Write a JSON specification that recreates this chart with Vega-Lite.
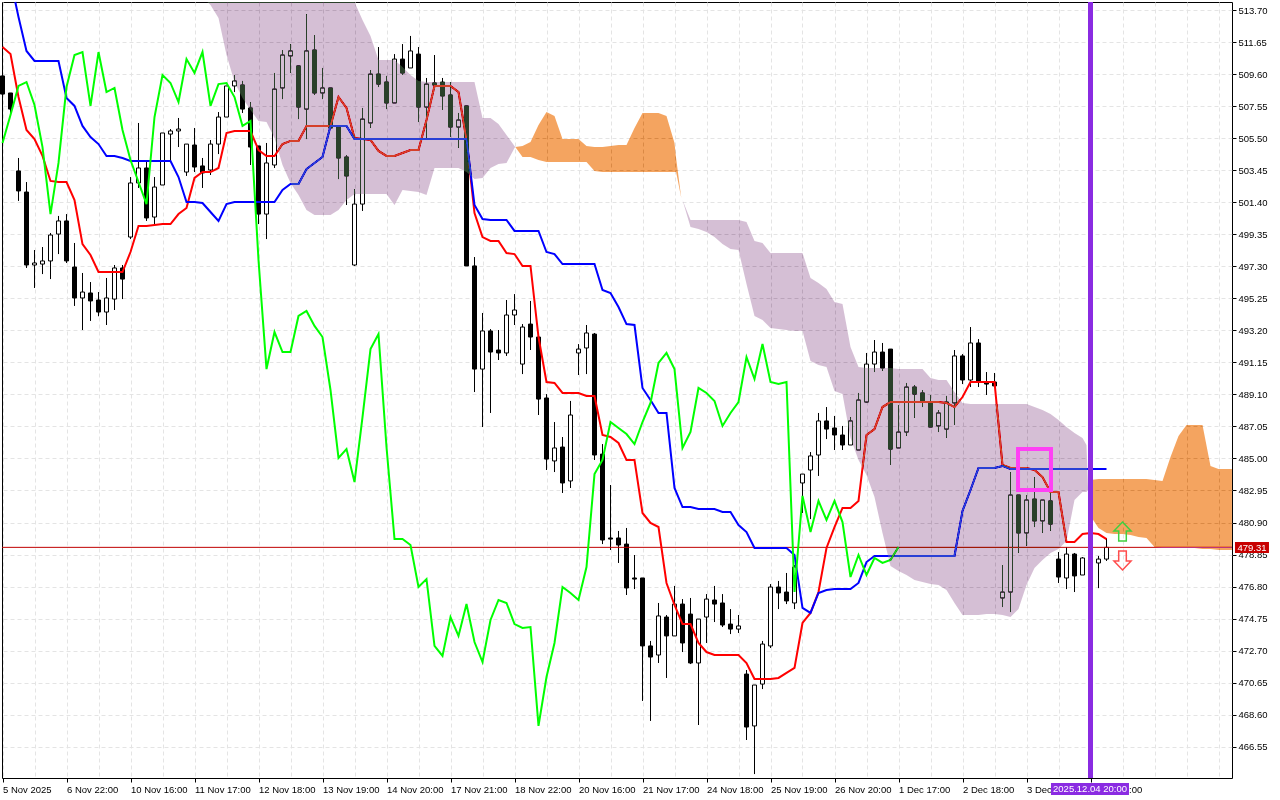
{
"$schema":"https://vega.github.io/schema/vega-lite/v6.json",
"width":1230,"height":776,
"autosize":"none",
"padding":{"left":2,"top":2,"right":48,"bottom":22},
"background":"white",
"view":{"fill":"white","stroke":"black","strokeWidth":1},
"config":{"font":"Liberation Sans"},
"datasets":{
"candles":[
{"i":0,"o":509.48,"h":509.73,"l":507.94,"c":508.32},{"i":1,"o":508.39,"h":508.39,"l":506.98,"c":507.36},{"i":2,"o":503.40,"h":504.23,"l":501.48,"c":502.12},{"i":3,"o":502.05,"h":502.69,"l":497.19,"c":497.38},{"i":4,"o":497.38,"h":498.34,"l":495.91,"c":497.51},{"i":5,"o":497.44,"h":498.53,"l":496.80,"c":497.64},{"i":6,"o":497.64,"h":499.43,"l":496.48,"c":499.30},{"i":7,"o":499.36,"h":500.52,"l":498.08,"c":500.20},{"i":8,"o":500.20,"h":500.64,"l":497.51,"c":497.64},{"i":9,"o":497.25,"h":498.79,"l":494.76,"c":495.27},
{"i":10,"o":495.27,"h":496.87,"l":493.22,"c":495.65},{"i":11,"o":495.59,"h":496.29,"l":493.80,"c":495.08},{"i":12,"o":495.14,"h":495.65,"l":494.10,"c":494.37},{"i":13,"o":494.37,"h":496.55,"l":493.54,"c":495.27},{"i":14,"o":495.20,"h":497.38,"l":494.50,"c":497.19},{"i":15,"o":497.19,"h":497.38,"l":495.20,"c":496.48},{"i":16,"o":499.17,"h":503.01,"l":499.04,"c":502.63},{"i":17,"o":502.63,"h":506.47,"l":502.31,"c":503.59},{"i":18,"o":503.59,"h":504.10,"l":500.20,"c":500.39},{"i":19,"o":500.45,"h":503.01,"l":500.00,"c":502.37},
{"i":20,"o":502.50,"h":505.83,"l":502.50,"c":505.83},{"i":21,"o":505.76,"h":506.08,"l":504.10,"c":505.96},{"i":22,"o":505.96,"h":506.79,"l":504.93,"c":506.08},{"i":23,"o":503.33,"h":505.12,"l":503.08,"c":505.12},{"i":24,"o":505.06,"h":506.15,"l":503.33,"c":503.65},{"i":25,"o":503.72,"h":504.23,"l":502.31,"c":503.27},{"i":26,"o":503.46,"h":505.38,"l":503.14,"c":505.12},{"i":27,"o":505.12,"h":507.17,"l":504.48,"c":506.85},{"i":28,"o":506.85,"h":508.84,"l":506.85,"c":508.84},{"i":29,"o":508.84,"h":509.54,"l":508.45,"c":509.16},
{"i":30,"o":508.90,"h":509.16,"l":507.11,"c":507.36},{"i":31,"o":507.43,"h":507.81,"l":503.78,"c":504.93},{"i":32,"o":505.00,"h":505.00,"l":500.00,"c":500.64},{"i":33,"o":500.64,"h":505.19,"l":499.04,"c":503.91},{"i":34,"o":503.78,"h":509.67,"l":503.59,"c":508.64},{"i":35,"o":508.71,"h":511.14,"l":508.00,"c":510.82},{"i":36,"o":510.76,"h":511.52,"l":509.67,"c":511.08},{"i":37,"o":510.12,"h":510.12,"l":506.72,"c":507.49},{"i":38,"o":507.36,"h":513.44,"l":505.44,"c":511.08},{"i":39,"o":511.14,"h":512.10,"l":508.26,"c":508.39},
{"i":40,"o":508.39,"h":509.99,"l":508.00,"c":508.71},{"i":41,"o":508.71,"h":508.71,"l":506.15,"c":506.15},{"i":42,"o":506.21,"h":506.28,"l":502.88,"c":504.23},{"i":43,"o":504.29,"h":504.42,"l":501.22,"c":503.08},{"i":44,"o":497.38,"h":502.24,"l":497.32,"c":501.28},{"i":45,"o":501.28,"h":507.43,"l":500.84,"c":506.72},{"i":46,"o":506.47,"h":509.86,"l":506.15,"c":509.60},{"i":47,"o":509.60,"h":511.33,"l":508.77,"c":508.96},{"i":48,"o":509.09,"h":509.48,"l":507.36,"c":507.75},{"i":49,"o":507.75,"h":510.88,"l":507.75,"c":510.56},
{"i":50,"o":510.56,"h":511.52,"l":509.54,"c":509.67},{"i":51,"o":509.99,"h":512.04,"l":509.99,"c":511.08},{"i":52,"o":510.88,"h":511.33,"l":506.53,"c":507.49},{"i":53,"o":507.49,"h":509.35,"l":505.51,"c":508.96},{"i":54,"o":509.03,"h":510.82,"l":508.58,"c":508.90},{"i":55,"o":509.09,"h":509.35,"l":507.30,"c":508.20},{"i":56,"o":508.26,"h":509.09,"l":505.57,"c":506.21},{"i":57,"o":506.21,"h":507.11,"l":504.87,"c":506.66},{"i":58,"o":507.56,"h":507.56,"l":497.32,"c":497.32},{"i":59,"o":497.32,"h":497.89,"l":489.25,"c":490.72},
{"i":60,"o":490.72,"h":494.31,"l":487.01,"c":493.16},{"i":61,"o":493.16,"h":493.28,"l":487.91,"c":491.81},{"i":62,"o":491.94,"h":493.22,"l":491.30,"c":491.75},{"i":63,"o":491.75,"h":495.14,"l":491.56,"c":494.18},{"i":64,"o":494.18,"h":495.52,"l":493.54,"c":494.50},{"i":65,"o":491.04,"h":493.60,"l":490.40,"c":493.41},{"i":66,"o":493.60,"h":495.08,"l":491.94,"c":492.77},{"i":67,"o":492.77,"h":492.77,"l":487.78,"c":488.80},{"i":68,"o":488.87,"h":489.12,"l":484.26,"c":484.96},{"i":69,"o":484.84,"h":487.33,"l":484.13,"c":485.67},
{"i":70,"o":485.73,"h":486.37,"l":482.79,"c":483.43},{"i":71,"o":483.56,"h":488.68,"l":483.11,"c":487.78},{"i":72,"o":491.75,"h":492.32,"l":490.34,"c":492.00},{"i":73,"o":492.07,"h":493.54,"l":490.40,"c":493.03},{"i":74,"o":492.96,"h":493.03,"l":484.90,"c":485.22},{"i":75,"o":485.28,"h":485.92,"l":479.52,"c":479.78},{"i":76,"o":479.91,"h":483.30,"l":479.14,"c":479.84},{"i":77,"o":479.91,"h":480.36,"l":478.31,"c":479.46},{"i":78,"o":479.52,"h":480.55,"l":476.26,"c":476.71},{"i":79,"o":477.35,"h":478.82,"l":476.64,"c":477.28},
{"i":80,"o":477.35,"h":477.35,"l":469.48,"c":473.00},{"i":81,"o":473.00,"h":473.32,"l":468.20,"c":472.29},{"i":82,"o":472.42,"h":475.75,"l":471.91,"c":474.92},{"i":83,"o":474.85,"h":474.98,"l":470.95,"c":473.64},{"i":84,"o":473.64,"h":476.84,"l":473.64,"c":475.68},{"i":85,"o":475.68,"h":476.00,"l":472.61,"c":473.19},{"i":86,"o":475.04,"h":476.07,"l":471.84,"c":471.91},{"i":87,"o":471.91,"h":474.72,"l":467.94,"c":474.72},{"i":88,"o":474.85,"h":476.32,"l":473.19,"c":476.00},{"i":89,"o":475.94,"h":476.84,"l":474.53,"c":475.68},
{"i":90,"o":475.75,"h":476.32,"l":474.21,"c":474.34},{"i":91,"o":474.40,"h":475.36,"l":473.76,"c":474.08},{"i":92,"o":474.08,"h":474.98,"l":473.83,"c":474.28},{"i":93,"o":471.20,"h":471.46,"l":466.98,"c":467.81},{"i":94,"o":467.88,"h":470.50,"l":464.80,"c":470.50},{"i":95,"o":470.56,"h":473.32,"l":470.24,"c":473.12},{"i":96,"o":473.00,"h":476.96,"l":472.87,"c":476.77},{"i":97,"o":476.77,"h":477.16,"l":475.36,"c":476.39},{"i":98,"o":476.45,"h":477.67,"l":475.68,"c":475.88},{"i":99,"o":475.75,"h":478.18,"l":475.36,"c":478.05},
{"i":100,"o":483.43,"h":484.00,"l":481.51,"c":484.00},{"i":101,"o":484.26,"h":485.41,"l":481.12,"c":485.16},{"i":102,"o":485.22,"h":487.91,"l":483.88,"c":487.40},{"i":103,"o":487.40,"h":488.29,"l":486.24,"c":486.88},{"i":104,"o":486.95,"h":487.72,"l":485.54,"c":486.50},{"i":105,"o":486.50,"h":487.08,"l":485.54,"c":485.86},{"i":106,"o":485.86,"h":487.65,"l":485.86,"c":487.40},{"i":107,"o":485.54,"h":489.19,"l":485.54,"c":488.74},{"i":108,"o":488.61,"h":491.75,"l":488.55,"c":491.04},{"i":109,"o":491.04,"h":492.58,"l":490.53,"c":491.81},
{"i":110,"o":491.81,"h":492.39,"l":490.60,"c":490.79},{"i":111,"o":492.00,"h":492.00,"l":484.58,"c":485.60},{"i":112,"o":485.67,"h":488.42,"l":485.67,"c":486.69},{"i":113,"o":486.69,"h":489.83,"l":486.44,"c":489.57},{"i":114,"o":489.57,"h":489.70,"l":487.59,"c":489.12},{"i":115,"o":489.19,"h":489.38,"l":488.29,"c":488.61},{"i":116,"o":488.55,"h":489.06,"l":487.01,"c":487.01},{"i":117,"o":487.08,"h":488.10,"l":486.69,"c":487.91},{"i":118,"o":486.88,"h":489.00,"l":486.31,"c":488.61},{"i":119,"o":488.55,"h":491.94,"l":487.14,"c":491.56},
{"i":120,"o":491.56,"h":491.68,"l":489.76,"c":490.02},{"i":121,"o":490.02,"h":493.41,"l":489.57,"c":492.39},{"i":122,"o":492.39,"h":492.64,"l":489.57,"c":489.89},{"i":123,"o":489.89,"h":490.53,"l":489.06,"c":489.76},{"i":124,"o":489.89,"h":490.47,"l":489.64,"c":489.64},{"i":125,"o":476.07,"h":478.18,"l":475.49,"c":476.45},{"i":126,"o":476.45,"h":484.13,"l":475.17,"c":482.66},{"i":127,"o":482.66,"h":482.66,"l":478.95,"c":480.23},{"i":128,"o":480.23,"h":482.66,"l":479.40,"c":482.34},{"i":129,"o":482.40,"h":483.81,"l":480.61,"c":481.00},
{"i":130,"o":481.00,"h":482.34,"l":480.23,"c":482.34},{"i":131,"o":482.28,"h":482.85,"l":480.36,"c":480.80},{"i":132,"o":478.56,"h":479.01,"l":477.03,"c":477.41},{"i":133,"o":477.35,"h":479.33,"l":476.64,"c":478.88},{"i":134,"o":478.88,"h":478.95,"l":476.45,"c":477.48},{"i":135,"o":477.54,"h":478.69,"l":477.54,"c":478.63},{"i":136,"o":477.70,"h":478.90,"l":477.20,"c":478.40},{"i":137,"o":478.31,"h":478.76,"l":476.70,"c":478.56},{"i":138,"o":478.56,"h":479.91,"l":478.44,"c":479.31}
],
"tenkan":[
{"i":0,"p":511.33},{"i":1,"p":510.88},{"i":2,"p":508.13},{"i":3,"p":506.02},{"i":4,"p":505.44},{"i":5,"p":504.36},{"i":6,"p":502.76},{"i":7,"p":502.69},{"i":8,"p":502.69},{"i":9,"p":501.54},{"i":10,"p":498.72},{"i":11,"p":498.02},{"i":12,"p":496.93},{"i":13,"p":496.93},{"i":14,"p":496.93},{"i":15,"p":496.93},{"i":16,"p":498.21},{"i":17,"p":499.88},{"i":18,"p":499.88},{"i":19,"p":499.94},{"i":20,"p":500.00},{"i":21,"p":500.00},{"i":22,"p":500.64},{"i":23,"p":501.03},{"i":24,"p":502.95},{"i":25,"p":503.33},{"i":26,"p":503.33},{"i":27,"p":503.59},{"i":28,"p":505.83},{"i":29,"p":505.96},{"i":30,"p":505.96},{"i":31,"p":505.96},{"i":32,"p":504.74},{"i":33,"p":504.36},{"i":34,"p":504.36},{"i":35,"p":505.12},{"i":36,"p":505.32},{"i":37,"p":505.32},{"i":38,"p":506.28},{"i":39,"p":506.28},{"i":40,"p":506.28},{"i":41,"p":506.28},{"i":42,"p":508.13},{"i":43,"p":507.43},{"i":44,"p":505.51},{"i":45,"p":505.44},{"i":46,"p":505.38},{"i":47,"p":504.68},{"i":48,"p":504.36},{"i":49,"p":504.36},{"i":50,"p":504.55},{"i":51,"p":504.74},{"i":52,"p":504.74},{"i":53,"p":506.66},{"i":54,"p":508.84},{"i":55,"p":508.84},{"i":56,"p":508.84},{"i":57,"p":508.45},{"i":58,"p":505.38},{"i":59,"p":500.70},{"i":60,"p":499.17},{"i":61,"p":498.92},{"i":62,"p":498.92},{"i":63,"p":498.15},{"i":64,"p":498.08},{"i":65,"p":497.32},{"i":66,"p":497.32},{"i":67,"p":492.77},{"i":68,"p":489.89},{"i":69,"p":489.83},{"i":70,"p":489.19},{"i":71,"p":489.19},{"i":72,"p":489.19},{"i":73,"p":489.00},{"i":74,"p":489.00},{"i":75,"p":486.50},{"i":76,"p":486.37},{"i":77,"p":485.99},{"i":78,"p":484.90},{"i":79,"p":484.90},{"i":80,"p":481.51},{"i":81,"p":480.87},{"i":82,"p":480.61},{"i":83,"p":477.03},{"i":84,"p":475.62},{"i":85,"p":474.40},{"i":86,"p":474.40},{"i":87,"p":473.19},{"i":88,"p":472.61},{"i":89,"p":472.42},{"i":90,"p":472.42},{"i":91,"p":472.42},{"i":92,"p":472.42},{"i":93,"p":471.91},{"i":94,"p":470.88},{"i":95,"p":470.88},{"i":96,"p":470.88},{"i":97,"p":470.95},{"i":98,"p":471.27},{"i":99,"p":471.59},{"i":100,"p":474.47},{"i":101,"p":475.11},{"i":102,"p":476.45},{"i":103,"p":479.27},{"i":104,"p":480.61},{"i":105,"p":481.83},{"i":106,"p":481.83},{"i":107,"p":482.28},{"i":108,"p":486.50},{"i":109,"p":486.88},{"i":110,"p":488.29},{"i":111,"p":488.61},{"i":112,"p":488.61},{"i":113,"p":488.61},{"i":114,"p":488.61},{"i":115,"p":488.61},{"i":116,"p":488.61},{"i":117,"p":488.61},{"i":118,"p":488.55},{"i":119,"p":488.29},{"i":120,"p":488.93},{"i":121,"p":489.89},{"i":122,"p":489.89},{"i":123,"p":489.89},{"i":124,"p":489.89},{"i":125,"p":484.58},{"i":126,"p":484.39},{"i":127,"p":484.39},{"i":128,"p":484.39},{"i":129,"p":484.26},{"i":130,"p":483.81},{"i":131,"p":482.85},{"i":132,"p":482.85},{"i":133,"p":479.65},{"i":134,"p":479.65},{"i":135,"p":480.16},{"i":136,"p":480.23},{"i":137,"p":480.16},{"i":138,"p":479.84}
],
"kijun":[
{"i":1.6,"p":514.21},{"i":2,"p":513.25},{"i":3,"p":511.08},{"i":4,"p":510.44},{"i":5,"p":510.44},{"i":6,"p":510.44},{"i":7,"p":510.44},{"i":8,"p":508.07},{"i":9,"p":507.56},{"i":10,"p":506.28},{"i":11,"p":505.57},{"i":12,"p":505.12},{"i":13,"p":504.36},{"i":14,"p":504.36},{"i":15,"p":504.23},{"i":16,"p":504.04},{"i":17,"p":504.04},{"i":18,"p":504.04},{"i":19,"p":504.04},{"i":20,"p":504.04},{"i":21,"p":504.04},{"i":22,"p":503.01},{"i":23,"p":501.41},{"i":24,"p":501.41},{"i":25,"p":501.35},{"i":26,"p":500.77},{"i":27,"p":500.20},{"i":28,"p":501.28},{"i":29,"p":501.41},{"i":30,"p":501.41},{"i":31,"p":501.41},{"i":32,"p":501.41},{"i":33,"p":501.41},{"i":34,"p":501.41},{"i":35,"p":502.18},{"i":36,"p":502.56},{"i":37,"p":502.56},{"i":38,"p":503.52},{"i":39,"p":503.91},{"i":40,"p":504.29},{"i":41,"p":506.28},{"i":42,"p":506.28},{"i":43,"p":506.28},{"i":44,"p":505.44},{"i":45,"p":505.44},{"i":46,"p":505.44},{"i":47,"p":505.44},{"i":48,"p":505.44},{"i":49,"p":505.44},{"i":50,"p":505.44},{"i":51,"p":505.44},{"i":52,"p":505.44},{"i":53,"p":505.44},{"i":54,"p":505.44},{"i":55,"p":505.44},{"i":56,"p":505.44},{"i":57,"p":505.44},{"i":58,"p":505.44},{"i":59,"p":501.22},{"i":60,"p":500.32},{"i":61,"p":500.26},{"i":62,"p":500.26},{"i":63,"p":500.26},{"i":64,"p":499.56},{"i":65,"p":499.56},{"i":66,"p":499.56},{"i":67,"p":499.56},{"i":68,"p":498.21},{"i":69,"p":498.08},{"i":70,"p":497.44},{"i":71,"p":497.44},{"i":72,"p":497.44},{"i":73,"p":497.44},{"i":74,"p":497.44},{"i":75,"p":495.78},{"i":76,"p":495.59},{"i":77,"p":494.69},{"i":78,"p":493.60},{"i":79,"p":493.54},{"i":80,"p":489.51},{"i":81,"p":488.74},{"i":82,"p":487.91},{"i":83,"p":487.91},{"i":84,"p":483.11},{"i":85,"p":481.89},{"i":86,"p":481.89},{"i":87,"p":481.76},{"i":88,"p":481.76},{"i":89,"p":481.76},{"i":90,"p":481.57},{"i":91,"p":481.57},{"i":92,"p":480.74},{"i":93,"p":480.29},{"i":94,"p":479.27},{"i":95,"p":479.27},{"i":96,"p":479.27},{"i":97,"p":479.27},{"i":98,"p":479.27},{"i":99,"p":478.82},{"i":100,"p":475.43},{"i":101,"p":475.11},{"i":102,"p":476.39},{"i":103,"p":476.58},{"i":104,"p":476.64},{"i":105,"p":476.64},{"i":106,"p":476.64},{"i":107,"p":477.03},{"i":108,"p":478.37},{"i":109,"p":478.76},{"i":110,"p":478.76},{"i":111,"p":478.76},{"i":112,"p":478.76},{"i":113,"p":478.76},{"i":114,"p":478.76},{"i":115,"p":478.76},{"i":116,"p":478.76},{"i":117,"p":478.76},{"i":118,"p":478.76},{"i":119,"p":478.76},{"i":120,"p":481.64},{"i":121,"p":482.98},{"i":122,"p":484.39},{"i":123,"p":484.39},{"i":124,"p":484.39},{"i":125,"p":484.52},{"i":126,"p":484.32},{"i":127,"p":484.32},{"i":128,"p":484.32},{"i":129,"p":484.32},{"i":130,"p":484.32},{"i":131,"p":484.32},{"i":132,"p":484.32},{"i":133,"p":484.32},{"i":134,"p":484.32},{"i":135,"p":484.32},{"i":136,"p":484.32},{"i":137,"p":484.32},{"i":138,"p":484.32}
],
"chikou":[
{"i":0,"p":505.19},{"i":1,"p":506.98},{"i":2,"p":508.84},{"i":3,"p":509.09},{"i":4,"p":507.62},{"i":5,"p":504.93},{"i":6,"p":500.64},{"i":7,"p":503.91},{"i":8,"p":508.77},{"i":9,"p":510.82},{"i":10,"p":511.01},{"i":11,"p":507.56},{"i":12,"p":511.01},{"i":13,"p":508.45},{"i":14,"p":508.71},{"i":15,"p":506.02},{"i":16,"p":504.10},{"i":17,"p":502.69},{"i":18,"p":501.28},{"i":19,"p":506.85},{"i":20,"p":509.54},{"i":21,"p":509.03},{"i":22,"p":507.81},{"i":23,"p":510.56},{"i":24,"p":509.67},{"i":25,"p":511.01},{"i":26,"p":507.56},{"i":27,"p":508.96},{"i":28,"p":509.03},{"i":29,"p":508.13},{"i":30,"p":506.28},{"i":31,"p":506.60},{"i":32,"p":497.70},{"i":33,"p":490.72},{"i":34,"p":493.09},{"i":35,"p":491.81},{"i":36,"p":491.81},{"i":37,"p":494.12},{"i":38,"p":494.44},{"i":39,"p":493.48},{"i":40,"p":492.77},{"i":41,"p":489.38},{"i":42,"p":485.03},{"i":43,"p":485.60},{"i":44,"p":483.49},{"i":45,"p":487.65},{"i":46,"p":492.00},{"i":47,"p":492.96},{"i":48,"p":485.73},{"i":49,"p":479.84},{"i":50,"p":479.84},{"i":51,"p":479.46},{"i":52,"p":476.77},{"i":53,"p":477.28},{"i":54,"p":473.00},{"i":55,"p":472.36},{"i":56,"p":474.85},{"i":57,"p":473.64},{"i":58,"p":475.68},{"i":59,"p":473.25},{"i":60,"p":471.97},{"i":61,"p":474.66},{"i":62,"p":475.94},{"i":63,"p":475.75},{"i":64,"p":474.40},{"i":65,"p":474.15},{"i":66,"p":474.21},{"i":67,"p":467.88},{"i":68,"p":471.01},{"i":69,"p":473.19},{"i":70,"p":476.77},{"i":71,"p":476.39},{"i":72,"p":475.94},{"i":73,"p":478.05},{"i":74,"p":484.00},{"i":75,"p":484.90},{"i":76,"p":487.33},{"i":77,"p":486.95},{"i":78,"p":486.56},{"i":79,"p":485.92},{"i":80,"p":487.33},{"i":81,"p":488.55},{"i":82,"p":491.11},{"i":83,"p":491.75},{"i":84,"p":490.72},{"i":85,"p":485.67},{"i":86,"p":486.69},{"i":87,"p":489.51},{"i":88,"p":489.19},{"i":89,"p":488.68},{"i":90,"p":487.08},{"i":91,"p":487.91},{"i":92,"p":488.61},{"i":93,"p":491.49},{"i":94,"p":490.08},{"i":95,"p":492.32},{"i":96,"p":489.89},{"i":97,"p":489.76},{"i":98,"p":489.89},{"i":99,"p":476.45},{"i":100,"p":482.60},{"i":101,"p":480.29},{"i":102,"p":482.28},{"i":103,"p":481.06},{"i":104,"p":482.28},{"i":105,"p":480.93},{"i":106,"p":477.41},{"i":107,"p":478.82},{"i":108,"p":477.54},{"i":109,"p":478.63},{"i":110,"p":478.31},{"i":111,"p":478.50},{"i":112,"p":479.33}
],
"cloud":[
{"seg":1,"kind":"down","i":25.6,"top":514.21,"bot":514.21},{"seg":1,"kind":"down","i":26,"top":514.21,"bot":514.02},{"seg":1,"kind":"down","i":27,"top":514.21,"bot":513.19},{"seg":1,"kind":"down","i":28,"top":514.21,"bot":510.82},{"seg":1,"kind":"down","i":29,"top":514.21,"bot":509.09},{"seg":1,"kind":"down","i":30,"top":514.21,"bot":508.07},{"seg":1,"kind":"down","i":31,"top":514.21,"bot":507.30},{"seg":1,"kind":"down","i":32,"top":514.21,"bot":506.60},{"seg":1,"kind":"down","i":33,"top":514.21,"bot":506.53},{"seg":1,"kind":"down","i":34,"top":514.21,"bot":505.51},{"seg":1,"kind":"down","i":35,"top":514.21,"bot":503.78},{"seg":1,"kind":"down","i":36,"top":514.21,"bot":502.63},{"seg":1,"kind":"down","i":37,"top":514.21,"bot":501.86},{"seg":1,"kind":"down","i":38,"top":514.21,"bot":500.90},{"seg":1,"kind":"down","i":39,"top":514.21,"bot":500.58},{"seg":1,"kind":"down","i":40,"top":514.21,"bot":500.58},{"seg":1,"kind":"down","i":41,"top":514.21,"bot":500.58},{"seg":1,"kind":"down","i":42,"top":514.21,"bot":500.90},{"seg":1,"kind":"down","i":43,"top":514.21,"bot":501.54},{"seg":1,"kind":"down","i":44,"top":514.21,"bot":501.92},{"seg":1,"kind":"down","i":45,"top":513.06,"bot":501.92},{"seg":1,"kind":"down","i":46,"top":512.04,"bot":501.92},{"seg":1,"kind":"down","i":47,"top":510.50,"bot":501.92},{"seg":1,"kind":"down","i":48,"top":510.50,"bot":501.92},{"seg":1,"kind":"down","i":49,"top":510.50,"bot":501.22},{"seg":1,"kind":"down","i":50,"top":510.05,"bot":502.18},{"seg":1,"kind":"down","i":51,"top":509.54,"bot":502.12},{"seg":1,"kind":"down","i":52,"top":509.16,"bot":502.05},{"seg":1,"kind":"down","i":53,"top":509.09,"bot":501.86},{"seg":1,"kind":"down","i":54,"top":509.09,"bot":503.59},{"seg":1,"kind":"down","i":55,"top":509.09,"bot":503.59},{"seg":1,"kind":"down","i":56,"top":509.09,"bot":503.59},{"seg":1,"kind":"down","i":57,"top":509.09,"bot":503.59},{"seg":1,"kind":"down","i":58,"top":509.09,"bot":503.33},{"seg":1,"kind":"down","i":59,"top":509.09,"bot":502.88},{"seg":1,"kind":"down","i":60,"top":506.79,"bot":502.95},{"seg":1,"kind":"down","i":61,"top":506.79,"bot":503.59},{"seg":1,"kind":"down","i":62,"top":506.40,"bot":503.84},{"seg":1,"kind":"down","i":63,"top":505.70,"bot":503.91},{"seg":1,"kind":"down","i":64,"top":505.00,"bot":504.87},{"seg":1,"kind":"down","i":64.1,"top":504.93,"bot":504.93},
{"seg":2,"kind":"up","i":64.1,"top":504.93,"bot":504.93},{"seg":2,"kind":"up","i":65,"top":505.00,"bot":504.29},{"seg":2,"kind":"up","i":66,"top":505.25,"bot":504.29},{"seg":2,"kind":"up","i":67,"top":506.34,"bot":504.10},{"seg":2,"kind":"up","i":68,"top":507.17,"bot":503.97},{"seg":2,"kind":"up","i":69,"top":506.92,"bot":503.97},{"seg":2,"kind":"up","i":70,"top":505.44,"bot":503.97},{"seg":2,"kind":"up","i":71,"top":505.44,"bot":503.97},{"seg":2,"kind":"up","i":72,"top":505.44,"bot":503.97},{"seg":2,"kind":"up","i":73,"top":505.00,"bot":503.97},{"seg":2,"kind":"up","i":74,"top":504.93,"bot":503.40},{"seg":2,"kind":"up","i":75,"top":504.93,"bot":503.33},{"seg":2,"kind":"up","i":76,"top":505.00,"bot":503.33},{"seg":2,"kind":"up","i":77,"top":505.06,"bot":503.33},{"seg":2,"kind":"up","i":78,"top":505.06,"bot":503.33},{"seg":2,"kind":"up","i":79,"top":506.15,"bot":503.33},{"seg":2,"kind":"up","i":80,"top":507.11,"bot":503.33},{"seg":2,"kind":"up","i":81,"top":507.11,"bot":503.33},{"seg":2,"kind":"up","i":82,"top":507.11,"bot":503.33},{"seg":2,"kind":"up","i":83,"top":506.92,"bot":503.33},{"seg":2,"kind":"up","i":84,"top":505.19,"bot":503.33},{"seg":2,"kind":"up","i":84.2,"top":504.23,"bot":503.33},{"seg":2,"kind":"up","i":84.85,"top":501.67,"bot":501.67},
{"seg":3,"kind":"down","i":84.85,"top":501.67,"bot":501.67},{"seg":3,"kind":"down","i":85,"top":501.54,"bot":501.54},{"seg":3,"kind":"down","i":86,"top":500.26,"bot":499.81},{"seg":3,"kind":"down","i":87,"top":500.26,"bot":499.68},{"seg":3,"kind":"down","i":88,"top":500.26,"bot":499.49},{"seg":3,"kind":"down","i":89,"top":500.26,"bot":499.17},{"seg":3,"kind":"down","i":90,"top":500.26,"bot":498.72},{"seg":3,"kind":"down","i":91,"top":500.26,"bot":498.40},{"seg":3,"kind":"down","i":92,"top":500.26,"bot":498.34},{"seg":3,"kind":"down","i":93,"top":500.13,"bot":496.16},{"seg":3,"kind":"down","i":94,"top":498.92,"bot":494.12},{"seg":3,"kind":"down","i":95,"top":498.79,"bot":493.86},{"seg":3,"kind":"down","i":96,"top":498.15,"bot":493.35},{"seg":3,"kind":"down","i":97,"top":498.15,"bot":493.28},{"seg":3,"kind":"down","i":98,"top":498.15,"bot":493.22},{"seg":3,"kind":"down","i":99,"top":498.15,"bot":493.16},{"seg":3,"kind":"down","i":100,"top":498.15,"bot":493.16},{"seg":3,"kind":"down","i":101,"top":496.55,"bot":491.24},{"seg":3,"kind":"down","i":102,"top":496.23,"bot":490.98},{"seg":3,"kind":"down","i":103,"top":495.84,"bot":490.85},{"seg":3,"kind":"down","i":104,"top":495.01,"bot":489.32},{"seg":3,"kind":"down","i":105,"top":494.88,"bot":489.12},{"seg":3,"kind":"down","i":106,"top":492.13,"bot":486.31},{"seg":3,"kind":"down","i":107,"top":490.85,"bot":484.90},{"seg":3,"kind":"down","i":108,"top":490.79,"bot":483.94},{"seg":3,"kind":"down","i":109,"top":490.79,"bot":482.53},{"seg":3,"kind":"down","i":110,"top":490.79,"bot":480.23},{"seg":3,"kind":"down","i":111,"top":490.79,"bot":478.12},{"seg":3,"kind":"down","i":112,"top":490.72,"bot":477.80},{"seg":3,"kind":"down","i":113,"top":490.72,"bot":477.54},{"seg":3,"kind":"down","i":114,"top":490.72,"bot":477.22},{"seg":3,"kind":"down","i":115,"top":490.72,"bot":477.09},{"seg":3,"kind":"down","i":116,"top":490.15,"bot":476.96},{"seg":3,"kind":"down","i":117,"top":490.02,"bot":476.90},{"seg":3,"kind":"down","i":118,"top":490.02,"bot":476.58},{"seg":3,"kind":"down","i":119,"top":489.25,"bot":475.75},{"seg":3,"kind":"down","i":120,"top":488.55,"bot":474.98},{"seg":3,"kind":"down","i":121,"top":488.48,"bot":474.98},{"seg":3,"kind":"down","i":122,"top":488.48,"bot":474.98},{"seg":3,"kind":"down","i":123,"top":488.48,"bot":475.04},{"seg":3,"kind":"down","i":124,"top":488.48,"bot":475.04},{"seg":3,"kind":"down","i":125,"top":488.48,"bot":474.98},{"seg":3,"kind":"down","i":126,"top":488.48,"bot":474.85},{"seg":3,"kind":"down","i":127,"top":488.48,"bot":475.36},{"seg":3,"kind":"down","i":128,"top":488.48,"bot":476.90},{"seg":3,"kind":"down","i":129,"top":488.29,"bot":477.99},{"seg":3,"kind":"down","i":130,"top":488.10,"bot":478.50},{"seg":3,"kind":"down","i":131,"top":487.84,"bot":478.95},{"seg":3,"kind":"down","i":132,"top":487.46,"bot":479.20},{"seg":3,"kind":"down","i":133,"top":487.01,"bot":479.72},{"seg":3,"kind":"down","i":134,"top":486.63,"bot":482.34},{"seg":3,"kind":"down","i":135,"top":486.31,"bot":482.85},{"seg":3,"kind":"down","i":135.5,"top":485.86,"bot":482.85},{"seg":3,"kind":"down","i":135.7,"top":482.98,"bot":482.98},
{"seg":4,"kind":"up","i":135.7,"top":482.98,"bot":482.98},{"seg":4,"kind":"up","i":136,"top":483.62,"bot":481.32},{"seg":4,"kind":"up","i":137,"top":483.68,"bot":480.55},{"seg":4,"kind":"up","i":138,"top":483.68,"bot":480.23},{"seg":4,"kind":"up","i":139,"top":483.68,"bot":480.16},{"seg":4,"kind":"up","i":140,"top":483.68,"bot":480.16},{"seg":4,"kind":"up","i":141,"top":483.68,"bot":480.10},{"seg":4,"kind":"up","i":142,"top":483.68,"bot":479.97},{"seg":4,"kind":"up","i":143,"top":483.68,"bot":479.91},{"seg":4,"kind":"up","i":144,"top":483.62,"bot":479.33},{"seg":4,"kind":"up","i":145,"top":483.56,"bot":479.27},{"seg":4,"kind":"up","i":146,"top":485.09,"bot":479.27},{"seg":4,"kind":"up","i":147,"top":486.44,"bot":479.27},{"seg":4,"kind":"up","i":148,"top":487.14,"bot":479.27},{"seg":4,"kind":"up","i":149,"top":487.14,"bot":479.27},{"seg":4,"kind":"up","i":150,"top":487.14,"bot":479.20},{"seg":4,"kind":"up","i":151,"top":484.52,"bot":479.20},{"seg":4,"kind":"up","i":152,"top":484.32,"bot":479.14},{"seg":4,"kind":"up","i":153,"top":484.32,"bot":479.14},{"seg":4,"kind":"up","i":153.68,"top":484.32,"bot":479.14}
]
},
"layer":[
{
"data":{"name":"candles"},
"mark":{"type":"rule","color":"black","strokeWidth":1},
"encoding":{
"x":{"field":"i","type":"quantitative","title":null,
"scale":{"domain":[-0.0625,153.6875],"nice":false,"zero":false,"padding":0},
"axis":{"values":[0,4,8,12,16,20,24,28,32,36,40,44,48,52,56,60,64,68,72,76,80,84,88,92,96,100,104,108,112,116,120,124,128,132,136,140,144,148,152],
"tickCount":80,"grid":true,"gridColor":"#e4e4e4","gridDash":[4,3],"gridWidth":1,
"domain":false,"tickColor":"black","tickSize":4,
"tickOpacity":{"condition":{"test":"datum.value%8==0 && datum.value<=136","value":1},"value":0},
"labelExpr":"['5 Nov 2025','6 Nov 22:00','10 Nov 16:00','11 Nov 17:00','12 Nov 18:00','13 Nov 19:00','14 Nov 20:00','17 Nov 21:00','18 Nov 22:00','20 Nov 16:00','21 Nov 17:00','24 Nov 18:00','25 Nov 19:00','26 Nov 20:00','1 Dec 17:00','2 Dec 18:00','3 Dec 19:00','4 Dec 20:00'][datum.value/8] || ''",
"labelAlign":"left","labelBaseline":"top","labelPadding":2,"labelOverlap":false,"labelFlush":false,"labelBound":false,"labelColor":"black","labelFontSize":9.5}},
"y":{"field":"l","type":"quantitative","title":null,
"scale":{"domain":[464.548,514.212],"nice":false,"zero":false},
"axis":{"orient":"right","values":[513.70,511.65,509.60,507.55,505.50,503.45,501.40,499.35,497.30,495.25,493.20,491.15,489.10,487.05,485.00,482.95,480.90,478.85,476.80,474.75,472.70,470.65,468.60,466.55],
"tickCount":50,"format":".2f","grid":true,"gridColor":"#e4e4e4","gridDash":[4,3],"gridWidth":1,
"domain":false,"tickColor":"black","tickSize":4,"labelPadding":2,"labelOverlap":false,"labelFlush":false,"labelBound":false,"labelColor":"black","labelFontSize":9.5}},
"y2":{"field":"h"}
}
},
{
"data":{"name":"candles"},
"mark":{"type":"bar","width":4,"stroke":"black","strokeWidth":1},
"encoding":{
"x":{"field":"i","type":"quantitative"},
"y":{"field":"o","type":"quantitative"},
"y2":{"field":"c"},
"fill":{"condition":{"test":"datum.c>=datum.o","value":"white"},"value":"black"}
}
},
{
"data":{"values":[{"p":479.31}]},
"mark":{"type":"rule","color":"#c00000","strokeWidth":1},
"encoding":{"y":{"field":"p","type":"quantitative"}}
},
{
"data":{"name":"tenkan"},
"mark":{"type":"line","color":"#ff0000","strokeWidth":2},
"encoding":{"x":{"field":"i","type":"quantitative"},"y":{"field":"p","type":"quantitative"}}
},
{
"data":{"name":"kijun"},
"mark":{"type":"line","color":"#0000ff","strokeWidth":2},
"encoding":{"x":{"field":"i","type":"quantitative"},"y":{"field":"p","type":"quantitative"}}
},
{
"data":{"name":"chikou"},
"mark":{"type":"line","color":"#00ff00","strokeWidth":2},
"encoding":{"x":{"field":"i","type":"quantitative"},"y":{"field":"p","type":"quantitative"}}
},
{
"data":{"name":"cloud"},
"mark":{"type":"area","blend":"difference"},
"encoding":{
"x":{"field":"i","type":"quantitative"},
"y":{"field":"top","type":"quantitative","stack":null},
"y2":{"field":"bot"},
"detail":{"field":"seg"},
"color":{"field":"kind","type":"nominal","legend":null,"scale":{"domain":["down","up"],"range":["#2a402a","#0b5b9f"]}}
}
},
{
"data":{"values":[{"i":126.94,"i2":131.06,"p":485.60,"p2":482.98}]},
"mark":{"type":"rect","filled":false,"stroke":"#ff40f5","strokeWidth":4},
"encoding":{"x":{"field":"i","type":"quantitative"},"x2":{"field":"i2"},"y":{"field":"p","type":"quantitative"},"y2":{"field":"p2"}}
},
{
"data":{"values":[{"i":136}]},
"mark":{"type":"rule","color":"#8a2be2","strokeWidth":5},
"encoding":{"x":{"field":"i","type":"quantitative"}}
},
{
"data":{"values":[{"i":140,"p":480.32}]},
"mark":{"type":"point","shape":"M0,-1 L0.9,-0.05 L0.4,-0.05 L0.4,1 L-0.4,1 L-0.4,-0.05 L-0.9,-0.05 Z","size":361,"filled":false,"stroke":"#40d040","strokeWidth":1.5,"opacity":1},
"encoding":{"x":{"field":"i","type":"quantitative"},"y":{"field":"p","type":"quantitative"}}
},
{
"data":{"values":[{"i":140,"p":478.47}]},
"mark":{"type":"point","shape":"M0,1 L0.9,0.05 L0.4,0.05 L0.4,-1 L-0.4,-1 L-0.4,0.05 L-0.9,0.05 Z","size":361,"filled":false,"stroke":"#ff4d4d","strokeWidth":1.5,"opacity":1},
"encoding":{"x":{"field":"i","type":"quantitative"},"y":{"field":"p","type":"quantitative"}}
},
{
"data":{"values":[{"i":131.06,"i2":140.81,"p":464.23,"p2":463.46,"fill":"#8a2be2"},{"i":154.06,"i2":158.31,"p":479.65,"p2":478.95,"fill":"#c80000"}]},
"mark":{"type":"rect"},
"encoding":{"x":{"field":"i","type":"quantitative"},"x2":{"field":"i2"},"y":{"field":"p","type":"quantitative"},"y2":{"field":"p2"},"fill":{"field":"fill","type":"nominal","scale":null}}
},
{
"data":{"values":[{"i":135.94,"p":463.84,"t":"2025.12.04 20:00"},{"i":156.19,"p":479.30,"t":"479.31"}]},
"mark":{"type":"text","color":"white","fontSize":9.5,"align":"center","baseline":"middle"},
"encoding":{"x":{"field":"i","type":"quantitative"},"y":{"field":"p","type":"quantitative"},"text":{"field":"t"}}
}
]
}
